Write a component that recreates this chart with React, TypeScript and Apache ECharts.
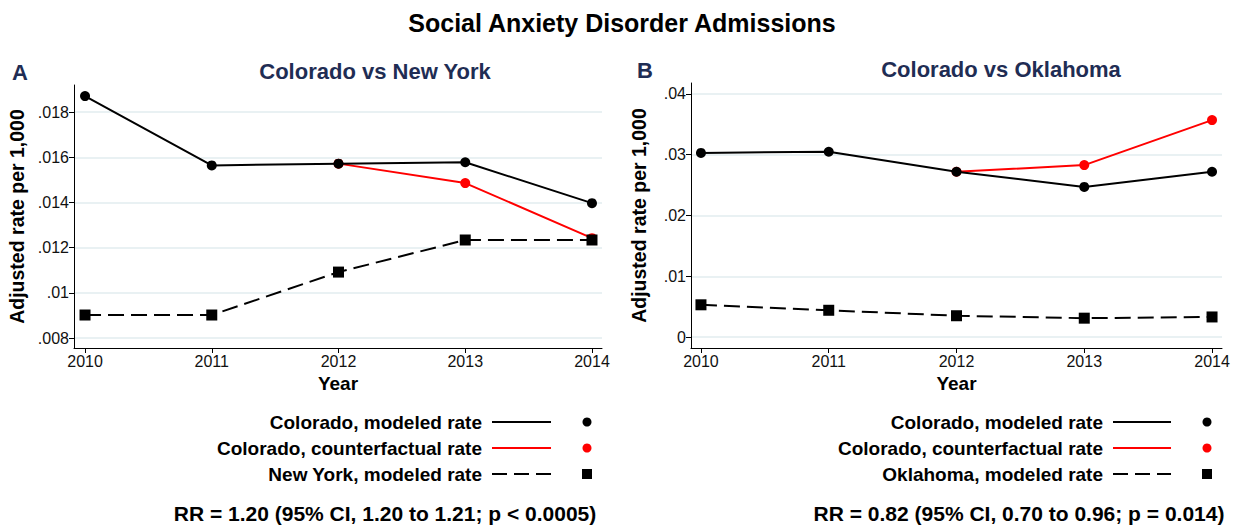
import React, { useEffect, useRef } from "react";
import * as echarts from "echarts";

const years = [2010, 2011, 2012, 2013, 2014];

// Panel A: Colorado vs New York
const coModeledA = [0.01871, 0.01564, 0.01572, 0.01578, 0.01397];
const coCounterA = [null, null, 0.01572, 0.01486, 0.01242];
const nyModeled = [0.00902, 0.00902, 0.01092, 0.01234, 0.01234];
const yTicksA = [0.008, 0.01, 0.012, 0.014, 0.016, 0.018];

// Panel B: Colorado vs Oklahoma
const coModeledB = [0.0303, 0.0305, 0.0272, 0.0247, 0.0272];
const coCounterB = [null, null, 0.0272, 0.0283, 0.0357];
const okModeled = [0.0053, 0.0044, 0.0035, 0.0031, 0.0033];
const yTicksB = [0, 0.01, 0.02, 0.03, 0.04];

const mainTitle = "Social Anxiety Disorder Admissions";
const panelTitles = ["Colorado vs New York", "Colorado vs Oklahoma"];
const panelLetters = ["A", "B"];
const legendLabelsA = ["Colorado, modeled rate", "Colorado, counterfactual rate", "New York, modeled rate"];
const legendLabelsB = ["Colorado, modeled rate", "Colorado, counterfactual rate", "Oklahoma, modeled rate"];
const rrTexts = [
  "RR = 1.20 (95% CI, 1.20 to 1.21; p < 0.0005)",
  "RR = 0.82 (95% CI, 0.70 to 0.96; p = 0.014)",
];

const FONT = "'Liberation Sans', Arial, sans-serif";
const NAVY = "#1f2d54";
const RED = "#ff0000";
const GRIDC = "#e9f1f3";

const toPairs = (vals: (number | null)[]) =>
  years.map((y, i) => (vals[i] == null ? null : [y, vals[i]])).filter((d) => d != null);

const fmtY = (v: number) => {
  if (Math.abs(v) < 1e-12) return "0";
  const s = String(+v.toFixed(4));
  return s.replace(/^0\./, ".");
};

export default function App() {
  const ref = useRef<HTMLDivElement>(null);
  useEffect(() => {
    document.body.style.margin = "0";
    const chart = echarts.init(ref.current!, null, { renderer: "svg" });

    const xAxisBase = (gridIndex: number, min: number, max: number) => ({
      type: "value",
      gridIndex,
      min,
      max,
      name: "Year",
      nameLocation: "middle",
      nameGap: 26,
      nameTextStyle: { fontFamily: FONT, fontWeight: "bold", fontSize: 19, color: "#000" },
      axisLine: { show: true, onZero: false, lineStyle: { color: "#000", width: 1 } },
      axisTick: { show: true, length: 5, customValues: years, lineStyle: { color: "#000" } },
      axisLabel: {
        customValues: years,
        formatter: (v: number) => String(Math.round(v)),
        fontFamily: FONT,
        fontSize: 16,
        color: "#111",
        margin: 5,
      },
      splitLine: { show: false },
    });

    const yAxisBase = (gridIndex: number, min: number, max: number, ticks: number[], gap: number) => ({
      type: "value",
      gridIndex,
      min,
      max,
      name: "Adjusted rate per 1,000",
      nameLocation: "middle",
      nameGap: gap,
      nameTextStyle: { fontFamily: FONT, fontWeight: "bold", fontSize: 19.5, color: "#000" },
      axisLine: { show: true, onZero: false, lineStyle: { color: "#000", width: 1 } },
      axisTick: { show: true, length: 5, customValues: ticks, lineStyle: { color: "#000" } },
      axisLabel: {
        customValues: ticks,
        formatter: fmtY,
        fontFamily: FONT,
        fontSize: 16,
        color: "#111",
        margin: 5,
      },
      splitLine: { show: true, lineStyle: { color: GRIDC, width: 2 } },
    });

    const seriesSet = (idx: number, modeled: number[], counter: (number | null)[], other: number[]) => [
      {
        type: "line",
        xAxisIndex: idx,
        yAxisIndex: idx,
        data: toPairs(counter),
        symbol: "circle",
        symbolSize: 10,
        lineStyle: { color: RED, width: 2 },
        itemStyle: { color: RED },
        z: 2,
      },
      {
        type: "line",
        xAxisIndex: idx,
        yAxisIndex: idx,
        data: toPairs(modeled),
        symbol: "circle",
        symbolSize: 10,
        lineStyle: { color: "#000", width: 2 },
        itemStyle: { color: "#000" },
        z: 3,
      },
      {
        type: "line",
        xAxisIndex: idx,
        yAxisIndex: idx,
        data: toPairs(other),
        symbol: "rect",
        symbolSize: 11,
        lineStyle: { color: "#000", width: 2, type: [16, 7] },
        itemStyle: { color: "#000" },
        z: 4,
      },
    ];

    const legendGraphics = (labels: string[], textRight: number, lineX1: number, lineX2: number, markX: number) => {
      const rows = [422, 448, 474];
      const els: any[] = [];
      labels.forEach((lab, i) => {
        const y = rows[i];
        els.push({
          type: "text",
          x: textRight,
          y,
          style: {
            text: lab,
            align: "right",
            verticalAlign: "middle",
            fontFamily: FONT,
            fontWeight: "bold",
            fontSize: 19,
            fill: "#000",
          },
        });
        const color = i === 1 ? RED : "#000";
        els.push({
          type: "line",
          shape: { x1: lineX1, y1: y, x2: lineX2, y2: y },
          style: { stroke: color, lineWidth: 2, lineDash: i === 2 ? [15, 7] : null },
        });
        if (i === 2) {
          els.push({ type: "rect", shape: { x: markX - 5, y: y - 5, width: 10, height: 10 }, style: { fill: "#000" } });
        } else {
          els.push({ type: "circle", shape: { cx: markX, cy: y, r: 4.5 }, style: { fill: color } });
        }
      });
      return els;
    };

    const option: any = {
      animation: false,
      backgroundColor: "#fff",
      title: [
        {
          text: mainTitle,
          left: 617,
          top: 5,
          textAlign: "center",
          textStyle: { fontFamily: FONT, fontWeight: "bold", fontSize: 25, color: "#000" },
        },
        {
          text: panelTitles[0],
          left: 370,
          top: 55,
          textAlign: "center",
          textStyle: { fontFamily: FONT, fontWeight: "bold", fontSize: 22, color: NAVY },
        },
        {
          text: panelTitles[1],
          left: 996,
          top: 53,
          textAlign: "center",
          textStyle: { fontFamily: FONT, fontWeight: "bold", fontSize: 22, color: NAVY },
        },
        {
          text: panelLetters[0],
          left: 7,
          top: 56,
          textStyle: { fontFamily: FONT, fontWeight: "bold", fontSize: 22, color: NAVY },
        },
        {
          text: panelLetters[1],
          left: 632,
          top: 54,
          textStyle: { fontFamily: FONT, fontWeight: "bold", fontSize: 22, color: NAVY },
        },
        {
          text: rrTexts[0],
          left: 380,
          top: 498,
          textAlign: "center",
          textStyle: { fontFamily: FONT, fontWeight: "bold", fontSize: 21, color: "#000" },
        },
        {
          text: rrTexts[1],
          left: 1014,
          top: 498,
          textAlign: "center",
          textStyle: { fontFamily: FONT, fontWeight: "bold", fontSize: 21, color: "#000" },
        },
      ],
      grid: [
        { left: 74, right: 635, top: 85, bottom: 179, containLabel: false },
        { left: 691, right: 15, top: 83, bottom: 179, containLabel: false },
      ],
      xAxis: [xAxisBase(0, 2009.913, 2014.079), xAxisBase(1, 2009.922, 2014.078)],
      yAxis: [
        yAxisBase(0, 0.00756, 0.0192, yTicksA, 47),
        yAxisBase(1, -0.00181, 0.04181, yTicksB, 42),
      ],
      series: [...seriesSet(0, coModeledA, coCounterA, nyModeled), ...seriesSet(1, coModeledB, coCounterB, okModeled)],
      graphic: [
        ...legendGraphics(legendLabelsA, 482, 492, 551, 587),
        ...legendGraphics(legendLabelsB, 1103, 1113, 1171, 1207),
      ],
    };
    chart.setOption(option);
    return () => chart.dispose();
  }, []);
  return <div ref={ref} style={{ width: 1237, height: 527 }} />;
}
